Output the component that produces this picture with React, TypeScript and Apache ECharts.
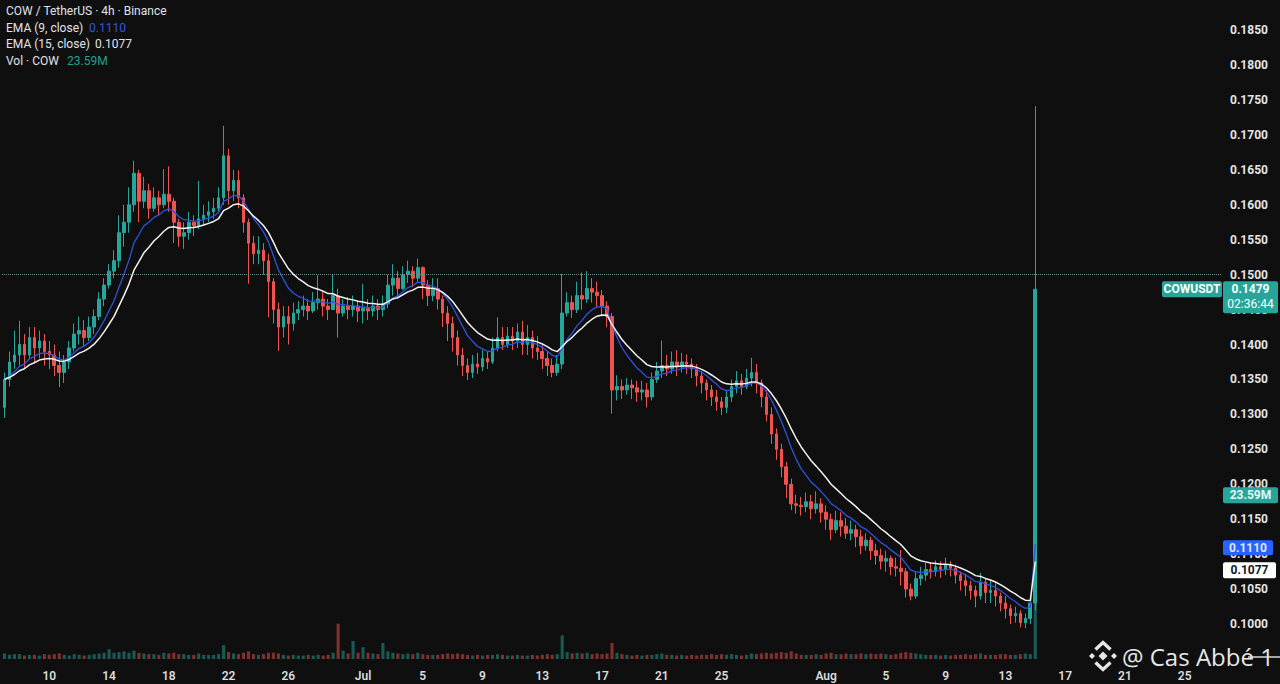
import { useEffect, useRef } from 'react';
import * as echarts from 'echarts';

// 8h slots from Jun 7 (00:00 UTC); the axis runs on past the last candle like TradingView's right margin
const START_UTC = Date.UTC(2025, 5, 7);
const SLOT_HOURS = 8;
const SLOT_COUNT = 245;

const TICK_DAYS = [
  '06-10', '06-14', '06-18', '06-22', '06-26', '07-01', '07-05', '07-09', '07-13', '07-17',
  '07-21', '07-25', '08-01', '08-05', '08-09', '08-13', '08-17', '08-21', '08-25',
];
const MONTHS = ['Jan', 'Feb', 'Mar', 'Apr', 'May', 'Jun', 'Jul', 'Aug', 'Sep', 'Oct', 'Nov', 'Dec'];

// prices in 1e-4 USDT, three candles per day
const FIRST_OPEN = 1310;
const CLOSES = [
  1350, 1375, 1385, 1400, 1385, 1410, 1395, 1405, 1390, 1385, 1370, 1360, // Jun 7-10
  1375, 1395, 1415, 1420, 1410, 1425, 1440, 1465, 1485, 1505, 1520, 1560, // Jun 11-14
  1575, 1600, 1645, 1605, 1620, 1595, 1610, 1600, 1615, 1605, 1575, 1555, // Jun 15-18
  1560, 1575, 1570, 1580, 1585, 1590, 1595, 1610, 1670, 1620, 1635, 1610, // Jun 19-22
  1575, 1545, 1530, 1535, 1520, 1490, 1450, 1425, 1440, 1430, 1445, 1450, // Jun 23-26
  1455, 1448, 1460, 1465, 1455, 1450, 1470, 1445, 1455, 1450, 1455, 1448, // Jun 27-30
  1452, 1448, 1455, 1450, 1458, 1485, 1495, 1480, 1500, 1505, 1495, 1510, // Jul 1-4
  1485, 1470, 1480, 1465, 1445, 1430, 1410, 1385, 1370, 1360, 1372, 1368, // Jul 5-8
  1380, 1375, 1395, 1410, 1400, 1412, 1405, 1418, 1400, 1410, 1395, 1390, // Jul 9-12
  1380, 1370, 1360, 1372, 1445, 1460, 1450, 1470, 1465, 1480, 1475, 1470, // Jul 13-16
  1455, 1440, 1335, 1340, 1335, 1342, 1338, 1332, 1335, 1325, 1350, 1362, // Jul 17-20
  1370, 1365, 1375, 1368, 1375, 1372, 1365, 1355, 1345, 1335, 1325, 1318, // Jul 21-24
  1310, 1325, 1340, 1348, 1340, 1352, 1360, 1345, 1325, 1300, 1272, 1250, // Jul 25-28
  1225, 1200, 1172, 1170, 1168, 1175, 1165, 1172, 1160, 1150, 1135, 1148, // Jul 29-Aug 1
  1140, 1130, 1135, 1125, 1112, 1120, 1105, 1098, 1090, 1094, 1082, 1080, // Aug 2-5
  1075, 1050, 1040, 1065, 1070, 1078, 1075, 1082, 1078, 1085, 1080, 1070, // Aug 6-9
  1062, 1055, 1048, 1040, 1060, 1045, 1048, 1040, 1030, 1022, 1012, 1015, // Aug 10-13
  1002, 1008, 1030, 1479, // Aug 14-15
];
const HIGHS = [
  1360, 1390, 1420, 1434, 1415, 1425, 1425, 1420, 1415, 1405, 1400, 1390,
  1385, 1405, 1430, 1440, 1435, 1440, 1450, 1475, 1495, 1515, 1535, 1585,
  1600, 1625, 1663, 1650, 1640, 1630, 1625, 1620, 1651, 1655, 1610, 1580,
  1575, 1590, 1585, 1634, 1600, 1605, 1610, 1625, 1713, 1680, 1650, 1649,
  1615, 1580, 1555, 1555, 1545, 1530, 1495, 1460, 1455, 1455, 1460, 1462,
  1470, 1465, 1475, 1499, 1475, 1465, 1501, 1480, 1465, 1468, 1470, 1462,
  1487, 1465, 1470, 1465, 1470, 1500, 1515, 1505, 1512, 1520, 1512, 1523,
  1512, 1492, 1495, 1495, 1470, 1455, 1440, 1420, 1395, 1380, 1385, 1388,
  1392, 1390, 1410, 1439, 1425, 1425, 1425, 1430, 1434, 1428, 1420, 1412,
  1400, 1390, 1380, 1385, 1501, 1475, 1470, 1490, 1503, 1505, 1495, 1490,
  1478, 1462, 1445, 1356, 1350, 1352, 1350, 1348, 1348, 1345, 1360, 1375,
  1406, 1385, 1390, 1392, 1388, 1386, 1380, 1372, 1362, 1350, 1342, 1335,
  1325, 1335, 1350, 1362, 1358, 1365, 1381, 1372, 1350, 1335, 1310, 1280,
  1258, 1232, 1208, 1185, 1182, 1188, 1185, 1190, 1180, 1170, 1158, 1162,
  1160, 1152, 1148, 1142, 1135, 1130, 1125, 1115, 1108, 1105, 1098, 1095,
  1106, 1080, 1058, 1075, 1082, 1088, 1088, 1091, 1090, 1095, 1090, 1085,
  1075, 1072, 1062, 1055, 1073, 1065, 1062, 1058, 1045, 1040, 1028, 1025,
  1020, 1015, 1035, 1741,
];
const LOWS = [
  1295, 1340, 1365, 1370, 1365, 1380, 1375, 1380, 1370, 1365, 1355, 1339,
  1345, 1365, 1390, 1400, 1398, 1405, 1415, 1435, 1455, 1480, 1495, 1510,
  1540, 1560, 1590, 1575, 1595, 1580, 1590, 1585, 1595, 1590, 1545, 1540,
  1537, 1550, 1555, 1565, 1570, 1575, 1580, 1590, 1600, 1600, 1605, 1595,
  1560, 1487, 1515, 1515, 1500, 1439, 1430, 1391, 1410, 1400, 1420, 1435,
  1440, 1435, 1445, 1450, 1440, 1435, 1450, 1410, 1440, 1436, 1440, 1432,
  1430, 1435, 1440, 1435, 1440, 1452, 1470, 1465, 1478, 1488, 1482, 1490,
  1465, 1455, 1462, 1450, 1425, 1405, 1390, 1370, 1355, 1349, 1352, 1358,
  1362, 1365, 1372, 1390, 1392, 1395, 1392, 1395, 1385, 1385, 1380, 1378,
  1365, 1355, 1353, 1355, 1365, 1440, 1438, 1445, 1450, 1460, 1460, 1452,
  1440, 1425, 1301, 1320, 1322, 1328, 1322, 1318, 1320, 1310, 1320, 1345,
  1352, 1355, 1358, 1355, 1360, 1358, 1352, 1340, 1330, 1320, 1312, 1305,
  1299, 1302, 1318, 1330, 1328, 1336, 1340, 1330, 1310, 1290, 1258, 1235,
  1210, 1180, 1163, 1158, 1155, 1160, 1150, 1158, 1145, 1135, 1120, 1130,
  1125, 1122, 1120, 1110, 1100, 1105, 1092, 1085, 1078, 1075, 1070, 1068,
  1055, 1038, 1034, 1036, 1055, 1062, 1065, 1068, 1066, 1070, 1068, 1058,
  1048, 1040, 1035, 1024, 1035, 1030, 1030, 1025, 1018, 1008, 1000, 1002,
  995, 994, 1000, 1020,
];
// volume in millions COW
const VOLUMES_M = [
  0.8, 0.6, 0.7, 0.7, 0.5, 0.6, 0.6, 0.5, 0.7, 0.6, 0.7, 0.8,
  0.6, 0.5, 0.7, 0.6, 0.5, 0.6, 0.7, 0.8, 0.9, 1.4, 0.9, 1.0,
  1.1, 0.9, 1.2, 0.9, 0.8, 0.7, 0.7, 0.6, 0.9, 0.8, 0.9, 0.7,
  0.7, 0.6, 0.6, 0.8, 0.6, 0.6, 0.6, 0.7, 2.0, 1.0, 0.8, 0.7,
  0.9, 1.1, 0.7, 0.6, 0.7, 0.9, 0.9, 0.8, 0.6, 0.5, 0.6, 0.5,
  0.5, 0.6, 0.5, 0.6, 0.5, 0.6, 0.9, 5.1, 1.2, 0.8, 2.6, 0.9,
  1.7, 0.9, 0.8, 0.7, 2.3, 1.1, 0.9, 0.8, 0.7, 0.8, 0.7, 0.9,
  0.7, 0.6, 0.6, 0.6, 0.7, 0.8, 0.7, 0.8, 0.7, 0.6, 0.5, 0.6,
  0.5, 0.6, 0.6, 0.7, 0.6, 0.5, 0.5, 0.6, 0.5, 0.5, 0.6, 0.5,
  0.6, 0.7, 0.6, 0.7, 3.4, 1.0, 0.8, 0.9, 0.8, 0.9, 0.7, 0.8,
  0.7, 0.8, 2.3, 0.9, 0.7, 0.6, 0.5, 0.6, 0.5, 0.6, 0.6, 0.7,
  0.8, 0.6, 0.6, 0.5, 0.6, 0.5, 0.6, 0.5, 0.6, 0.6, 0.7, 0.6,
  0.7, 0.6, 0.7, 0.6, 0.5, 0.6, 0.8, 0.7, 0.8, 0.9, 0.8, 0.9,
  1.0, 0.9, 1.1, 0.8, 0.6, 0.6, 0.6, 0.7, 0.6, 0.8, 0.9, 0.7,
  0.7, 0.8, 0.7, 0.7, 0.8, 0.7, 0.8, 0.7, 0.8, 0.7, 0.6, 0.7,
  0.9, 1.0, 0.9, 0.8, 0.7, 0.6, 0.6, 0.6, 0.5, 0.6, 0.5, 0.6,
  0.6, 0.7, 0.6, 0.7, 0.8, 0.6, 0.6, 0.6, 0.7, 0.7, 0.6, 0.6,
  0.7, 0.8, 0.7, 23.59,
];

const LAST_PRICE = 0.1479;
const COUNTDOWN = '02:36:44';
const EMA9_LAST = 0.111;
const EMA15_LAST = 0.1077;
const VOL_LAST = 23.59;

const UP = '#26a69a';
const DOWN = '#ef5350';
const BG = '#0f0f0f';
const FONT = 'Roboto, "Noto Sans", sans-serif';

function ema(values: number[], period: number) {
  const k = 2 / (period + 1);
  const out: number[] = [];
  let prev = values[0];
  values.forEach((v, i) => {
    prev = i === 0 ? v : v * k + prev * (1 - k);
    out.push(+prev.toFixed(5));
  });
  return out;
}

function slotLabel(i: number) {
  const d = new Date(START_UTC + i * SLOT_HOURS * 3600 * 1000);
  const mm = String(d.getUTCMonth() + 1).padStart(2, '0');
  const dd = String(d.getUTCDate()).padStart(2, '0');
  const hh = String(d.getUTCHours()).padStart(2, '0');
  return `${mm}-${dd} ${hh}`;
}

function tag(x: number, yMid: number, w: number, h: number, bg: string, lines: string[], color: string) {
  const children: any[] = [
    { type: 'rect', z: 100, shape: { x: 0, y: 0, width: w, height: h, r: 2 }, style: { fill: bg } },
  ];
  lines.forEach((t, i) => {
    children.push({
      type: 'text',
      z: 101,
      x: w / 2,
      y: h / lines.length / 2 + i * 15,
      style: {
        text: t, fill: color, fontSize: 12, fontFamily: FONT, fontWeight: i === 0 ? 'bold' : 'normal',
        align: 'center', verticalAlign: 'middle',
      },
    });
  });
  return { type: 'group', x, y: yMid - 8, z: 100, children };
}

export default function App() {
  const chartRef = useRef<HTMLDivElement>(null);

  useEffect(() => {
    if (!chartRef.current) return;
    document.body.style.margin = '0';
    document.body.style.background = BG;

    const chart = echarts.init(chartRef.current, null, { renderer: 'svg' });

    const categories = Array.from({ length: SLOT_COUNT }, (_, i) => slotLabel(i));
    const closes = CLOSES.map((c) => c / 10000);
    const candles = CLOSES.map((c, i) => {
      const o = i === 0 ? FIRST_OPEN : CLOSES[i - 1];
      const h = Math.max(HIGHS[i], o, c);
      const l = Math.min(LOWS[i], o, c);
      return [o / 10000, c / 10000, l / 10000, h / 10000];
    });
    const volumes = VOLUMES_M.map((v, i) => ({
      value: v,
      itemStyle: { color: candles[i][1] >= candles[i][0] ? 'rgba(38,166,154,0.5)' : 'rgba(239,83,80,0.5)' },
    }));

    const legendText = (text: string, x: number, y: number, fill: string) => ({
      type: 'text', x, y, z: 100,
      style: { text, fill, fontSize: 12, fontFamily: FONT, verticalAlign: 'middle' },
    });

    chart.setOption({
      animation: false,
      backgroundColor: BG,
      textStyle: { fontFamily: FONT },
      grid: { left: 2, right: 58, top: 0, bottom: 25 },
      xAxis: {
        type: 'category',
        data: categories,
        axisLine: { show: false },
        axisTick: { show: false },
        splitLine: { show: false },
        axisLabel: {
          interval: (_: number, v: string) => v.endsWith('00') && TICK_DAYS.includes(v.slice(0, 5)),
          formatter: (v: string) => {
            const day = parseInt(v.slice(3, 5), 10);
            return day === 1 ? MONTHS[parseInt(v.slice(0, 2), 10) - 1] : String(day);
          },
          color: '#dcdcdc',
          fontSize: 12,
          fontWeight: 600,
          margin: 11,
        },
      },
      yAxis: [
        {
          type: 'value',
          position: 'right',
          min: 0.095,
          max: 0.1893,
          interval: 0.005,
          splitLine: { show: false },
          axisLine: { show: false },
          axisTick: { show: false },
          axisLabel: {
            formatter: (v: number) => v.toFixed(4),
            color: '#e4e4e4',
            fontSize: 12,
            fontWeight: 'bold',
            margin: 8,
            showMinLabel: false,
            showMaxLabel: false,
          },
        },
        { type: 'value', min: 0, max: 95, show: false },
      ],
      series: [
        {
          name: 'Vol',
          type: 'bar',
          yAxisIndex: 1,
          data: volumes,
          barWidth: '62%',
          z: 1,
        },
        {
          name: 'COWUSDT',
          type: 'candlestick',
          data: candles,
          barWidth: '62%',
          z: 3,
          itemStyle: { color: UP, color0: DOWN, borderColor: UP, borderColor0: DOWN, borderWidth: 1 },
          markLine: {
            silent: true,
            symbol: 'none',
            label: { show: false },
            lineStyle: { type: 'dotted', color: '#6f8c88', width: 1 },
            data: [{ yAxis: LAST_PRICE }],
          },
        },
        {
          name: 'EMA 9',
          type: 'line',
          data: ema(closes, 9),
          showSymbol: false,
          z: 4,
          lineStyle: { color: '#2f52e0', width: 1.3 },
        },
        {
          name: 'EMA 15',
          type: 'line',
          data: ema(closes, 15),
          showSymbol: false,
          z: 5,
          lineStyle: { color: '#f2f2f2', width: 1.5 },
        },
      ],
    });

    const yP = (v: number) => chart.convertToPixel({ yAxisIndex: 0 }, v) as number;
    const yV = chart.convertToPixel({ yAxisIndex: 1 }, VOL_LAST) as number;
    const cx = 1103;
    const cy = 656;
    const mark = '#e6e6e6';
    const diamond = (x: number, y: number, r: number) => ({
      type: 'polygon', z: 100,
      shape: { points: [[x, y - r], [x + r, y], [x, y + r], [x - r, y]] },
      style: { fill: mark },
    });
    const chevron = (dir: number) => ({
      type: 'polyline', z: 100,
      shape: { points: [[cx - 7.5, cy + dir * 6.5], [cx, cy + dir * 13.5], [cx + 7.5, cy + dir * 6.5]] },
      style: { stroke: mark, lineWidth: 3.4, fill: 'none' },
    });

    chart.setOption({
      graphic: [
        legendText('COW / TetherUS · 4h · Binance', 6, 11, '#e0e3eb'),
        legendText('EMA (9, close)', 6, 28, '#e0e3eb'),
        legendText(EMA9_LAST.toFixed(4), 89, 28, '#3556d8'),
        legendText('EMA (15, close)', 6, 44, '#e0e3eb'),
        legendText(EMA15_LAST.toFixed(4), 95, 44, '#e0e3eb'),
        legendText('Vol · COW', 6, 61, '#e0e3eb'),
        legendText(`${VOL_LAST.toFixed(2)}M`, 67, 61, '#22a08f'),
        tag(1162, yP(LAST_PRICE), 60, 16, UP, ['COWUSDT'], '#ffffff'),
        tag(1223, yP(LAST_PRICE), 55, 32, UP, [LAST_PRICE.toFixed(4), COUNTDOWN], '#ffffff'),
        tag(1223, yV, 55, 16, UP, [`${VOL_LAST.toFixed(2)}M`], '#e8f5f3'),
        tag(1223, yP(EMA9_LAST) + 1, 50, 15, '#2962ff', [EMA9_LAST.toFixed(4)], '#dfe6ff'),
        tag(1223, yP(EMA15_LAST), 53, 16, '#ffffff', [EMA15_LAST.toFixed(4)], '#131722'),
        { type: 'line', z: 90, shape: { x1: 1248, y1: 657, x2: 1280, y2: 657 }, style: { stroke: '#d8d8d8', lineWidth: 1.5 } },
        diamond(cx, cy, 4.5),
        diamond(cx - 11, cy, 3),
        diamond(cx + 11, cy, 3),
        chevron(-1),
        chevron(1),
        {
          type: 'text', x: 1122, y: 656, z: 100,
          style: {
            text: '@ Cas Abbé 1', fill: '#e8e8e8', fontSize: 24, lineHeight: 20,
            fontFamily: '"Open Sans", sans-serif', verticalAlign: 'middle',
          },
        },
      ],
    });

    return () => {
      chart.dispose();
    };
  }, []);

  return <div ref={chartRef} style={{ position: 'fixed', left: 0, top: 0, width: 1280, height: 684 }} />;
}
